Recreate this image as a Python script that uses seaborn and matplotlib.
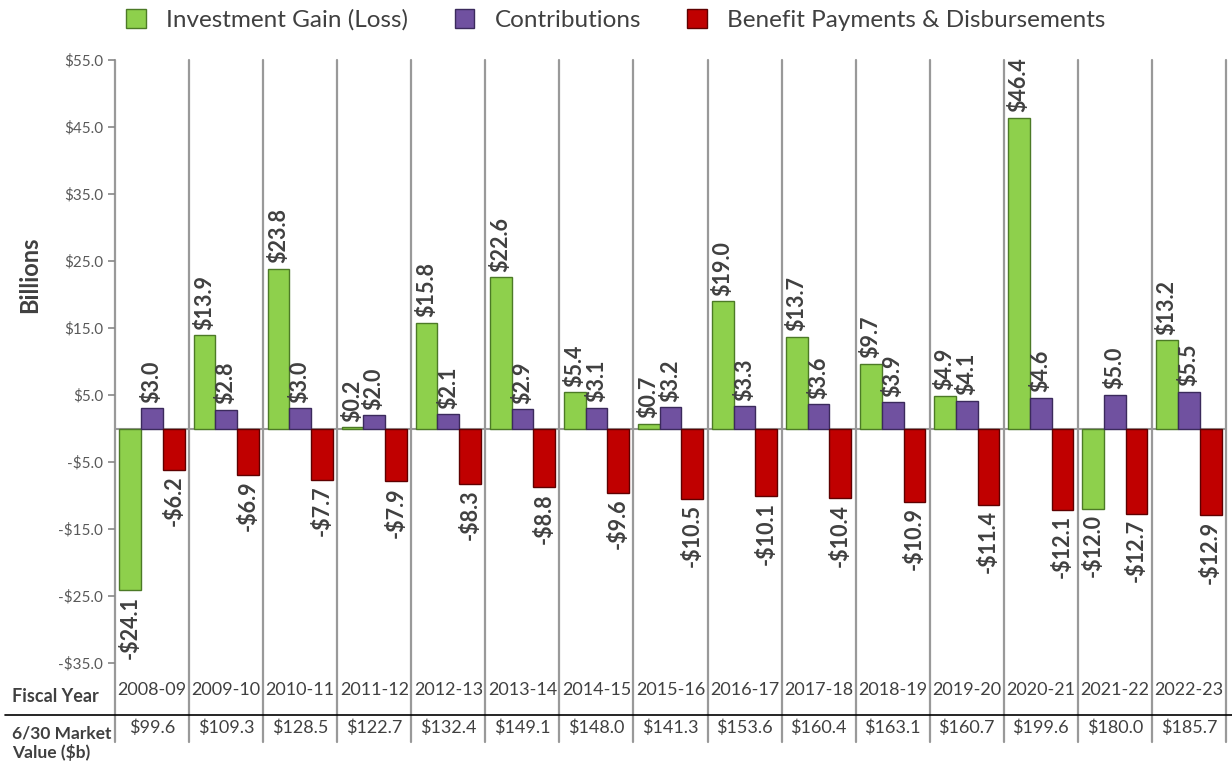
import pandas as pd
import matplotlib.pyplot as plt
import seaborn as sns
from matplotlib.patches import Patch
from matplotlib.lines import Line2D
import matplotlib.transforms as mtransforms

# DATA
years = ["2008-09", "2009-10", "2010-11", "2011-12", "2012-13", "2013-14", "2014-15", "2015-16",
         "2016-17", "2017-18", "2018-19", "2019-20", "2020-21", "2021-22", "2022-23"]
investment = [-24.1, 13.9, 23.8, 0.2, 15.8, 22.6, 5.4, 0.7, 19.0, 13.7, 9.7, 4.9, 46.4, -12.0, 13.2]
contributions = [3.0, 2.8, 3.0, 2.0, 2.1, 2.9, 3.1, 3.2, 3.3, 3.6, 3.9, 4.1, 4.6, 5.0, 5.5]
benefits = [-6.2, -6.9, -7.7, -7.9, -8.3, -8.8, -9.6, -10.5, -10.1, -10.4, -10.9, -11.4, -12.1, -12.7, -12.9]
market_value = ["$99.6", "$109.3", "$128.5", "$122.7", "$132.4", "$149.1", "$148.0", "$141.3",
                "$153.6", "$160.4", "$163.1", "$160.7", "$199.6", "$180.0", "$185.7"]
series_names = ["Investment Gain (Loss)", "Contributions", "Benefit Payments & Disbursements"]

df = pd.DataFrame({
    "year": years * 3,
    "series": [series_names[0]] * 15 + [series_names[1]] * 15 + [series_names[2]] * 15,
    "value": investment + contributions + benefits,
})

# STYLE
sns.set_style("white")
plt.rcParams['font.family'] = ['Lato', 'DejaVu Sans']
c = ["#8ed04c", "#7051a0", "#c00000"]
edges = ["#4c7a26", "#3b2a5c", "#5e0000"]
txt = "#404040"

fig = plt.figure(figsize=(12.32, 7.61), dpi=100)
ax = fig.add_axes([115 / 1232, 98 / 761, 1111 / 1232, 603 / 761])

sns.barplot(data=df, x="year", y="value", hue="series", palette=c, width=0.88,
            ax=ax, legend=False, saturation=1)

# bar edges and value labels
for container, ec in zip(ax.containers, edges):
    for bar in container:
        bar.set_edgecolor(ec)
        bar.set_linewidth(1)
    for bar, v in zip(container, container.datavalues):
        x = bar.get_x() + bar.get_width() / 2
        lab = f"${v:.1f}" if v >= 0 else f"-${abs(v):.1f}"
        if v >= 0:
            ax.annotate(lab, (x, v), xytext=(0, 4), textcoords="offset points", rotation=90,
                        ha="center", va="bottom", fontsize=15.5, fontweight="bold", color=txt)
        else:
            ax.annotate(lab, (x, v), xytext=(0, -4), textcoords="offset points", rotation=90,
                        ha="center", va="top", fontsize=15.5, fontweight="bold", color=txt)

# axes
ax.set_xlim(-0.5, 14.5)
ax.set_ylim(-35, 55)
ax.set_yticks(range(-35, 56, 10))
ax.set_yticklabels([f"${t:.1f}" if t >= 0 else f"-${abs(t):.1f}" for t in range(-35, 56, 10)],
                   fontsize=11, color="#595959")
ax.tick_params(axis="y", direction="out", length=5, color="#888888", width=1.2, left=True)
ax.set_xticks([])
ax.set_xlabel("")
ax.set_ylabel("")
for s in ax.spines.values():
    s.set_visible(False)
ax.axhline(0, color="#999999", lw=1.5, zorder=0)

# category dividers that run down into the table
trans = mtransforms.blended_transform_factory(ax.transData, ax.transAxes)
for i in range(16):
    ax.plot([i - 0.5, i - 0.5], [1.0, -0.131], color="#999999", lw=1.6, transform=trans,
            clip_on=False, zorder=0)

# table rows
for i, (yr, mv) in enumerate(zip(years, market_value)):
    ax.text(i, -0.045, yr, transform=trans, ha="center", va="center", fontsize=13, color=txt)
    ax.text(i, -0.108, mv, transform=trans, ha="center", va="center", fontsize=13, color=txt)

fig.add_artist(Line2D([5 / 1232, 1.0], [46 / 761, 46 / 761], color="black", lw=1.2))
fig.text(12 / 1232, 1 - 697 / 761, "Fiscal Year", fontsize=13, fontweight="bold", color=txt,
         va="center", ha="left")
fig.text(12 / 1232, 1 - 743 / 761, "6/30 Market\nValue ($b)", fontsize=12.5, fontweight="bold",
         color=txt, va="center", ha="left", linespacing=1.2)
fig.text(30 / 1232, 1 - 275 / 761, "Billions", fontsize=17, fontweight="bold", color=txt,
         rotation=90, va="center", ha="center")

# legend
handles = [Patch(facecolor=col, edgecolor=ec, label=n) for col, ec, n in zip(c, edges, series_names)]
fig.legend(handles=handles, loc="center", bbox_to_anchor=(0.5, 1 - 20 / 761), ncol=3,
           frameon=False, fontsize=17.5, labelcolor=txt, handlelength=0.8, handleheight=0.8,
           columnspacing=1.9, handletextpad=0.85)

plt.savefig("out.png", dpi=100)
